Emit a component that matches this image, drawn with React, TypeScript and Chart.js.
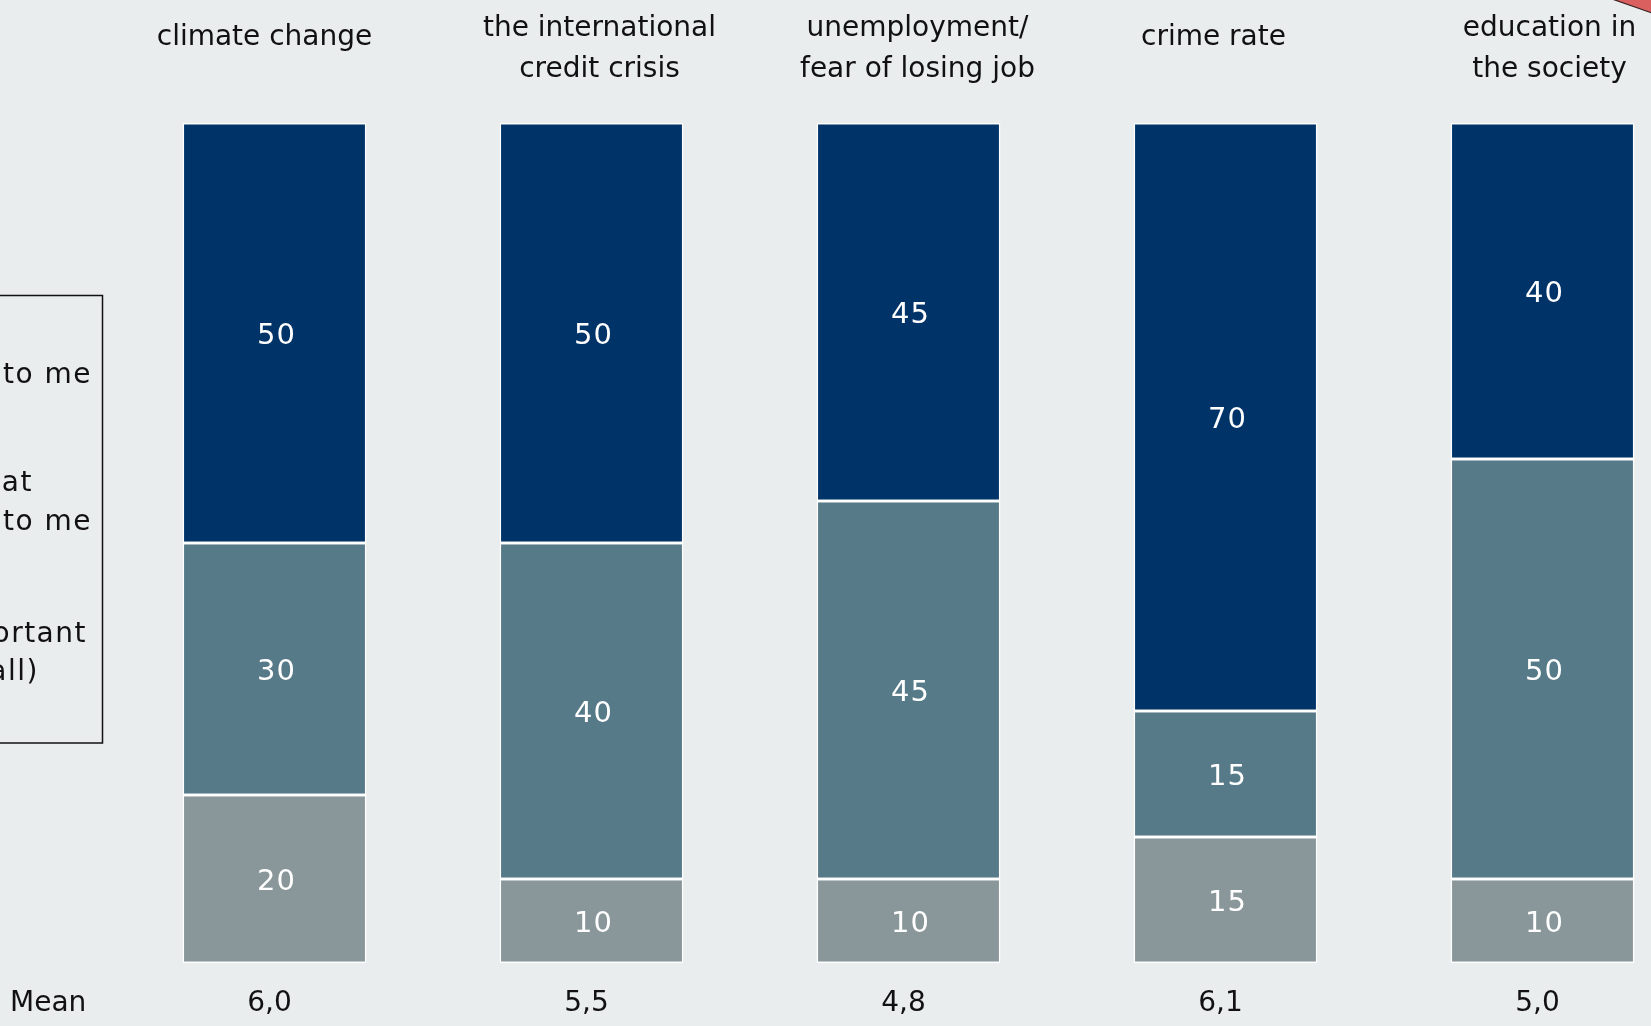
import React, { useEffect, useRef } from "react";
import { Chart, registerables } from "chart.js";

Chart.register(...registerables);

// ---- data ----
const categories: string[][] = [
  ["climate change"],
  ["the international", "credit crisis"],
  ["unemployment/", "fear of losing job"],
  ["crime rate"],
  ["education in", "the society"],
];
const notImportant = [20, 10, 10, 15, 10];
const somewhatImportant = [30, 40, 45, 15, 50];
const veryImportant = [50, 50, 45, 70, 40];
const means = ["6,0", "5,5", "4,8", "6,1", "5,0"];
const meanLabel = "Mean";
const legendLines: string[][] = [
  ["very important to me"],
  ["somewhat", "important to me"],
  ["not important", "(at all)"],
];

// ---- style ----
const BG = "#e9edee";
const NAVY = "#003469";
const MID = "#577a89";
const LIGHT = "#8a979a";
const TEXT = "#111111";
const FONT = "'DejaVu Sans', sans-serif";

const labelNudge = [-10, 8, 9, -12, 7];

const overlayPlugin = {
  id: "overlay",
  beforeDraw(chart: any) {
    const { ctx, width, height } = chart;
    ctx.save();
    ctx.fillStyle = BG;
    ctx.fillRect(0, 0, width, height);
    ctx.restore();
  },
  afterDatasetsDraw(chart: any) {
    const { ctx } = chart;
    const xScale = chart.scales.x;
    ctx.save();
    // value labels
    ctx.fillStyle = "#ffffff";
    ctx.font = `29px ${FONT}`;
    (ctx as any).letterSpacing = "1px";
    ctx.textAlign = "center";
    ctx.textBaseline = "middle";
    chart.data.datasets.forEach((ds: any, di: number) => {
      const meta = chart.getDatasetMeta(di);
      meta.data.forEach((el: any, i: number) => {
        const v = ds.data[i];
        if (!v) return;
        const y = (el.y + el.base) / 2;
        ctx.fillText(String(v), el.x + 2, y + 3.5);
      });
    });

    // category labels (top)
    (ctx as any).letterSpacing = "0px";
    ctx.fillStyle = TEXT;
    ctx.font = `28px ${FONT}`;
    ctx.textBaseline = "alphabetic";
    categories.forEach((lines, i) => {
      const x = xScale.getPixelForValue(i) + labelNudge[i];
      if (lines.length === 1) {
        ctx.fillText(lines[0], x, 45);
      } else {
        ctx.fillText(lines[0], x, 36);
        ctx.fillText(lines[1], x, 77);
      }
    });

    // mean row
    ctx.font = `28px ${FONT}`;
    ctx.textAlign = "left";
    ctx.fillText(meanLabel, 10, 1011);
    ctx.textAlign = "center";
    means.forEach((m, i) => {
      ctx.fillText(m, xScale.getPixelForValue(i) - 5, 1011);
    });

    // legend box (cropped at left)
    ctx.strokeStyle = "#111111";
    ctx.lineWidth = 1.5;
    ctx.strokeRect(-10, 295.5, 112.5, 447.5);
    (ctx as any).letterSpacing = "1.5px";
    ctx.textAlign = "right";
    ctx.textBaseline = "middle";
    const legendPos: [number, number][][] = [
      [[92, 376]],
      [[33, 484], [92, 523]],
      [[87, 635], [39, 673]],
    ];
    legendLines.forEach((lines, li) => {
      lines.forEach((t, k) => {
        const [px, py] = legendPos[li][k];
        ctx.fillText(t, px, py);
      });
    });
    (ctx as any).letterSpacing = "0px";

    // red callout fragment (top right corner)
    ctx.beginPath();
    ctx.moveTo(1612, -1);
    ctx.lineTo(1652, 13);
    ctx.lineTo(1652, -1);
    ctx.closePath();
    ctx.fillStyle = "#d9605f";
    ctx.fill();
    ctx.beginPath();
    ctx.moveTo(1612, -1);
    ctx.lineTo(1652, 13);
    ctx.strokeStyle = "#3a2020";
    ctx.lineWidth = 1.2;
    ctx.stroke();
    ctx.restore();
  },
};

export default function App() {
  const ref = useRef<HTMLCanvasElement | null>(null);
  useEffect(() => {
    if (!ref.current) return;
    const mk = (label: string, data: number[], color: string) => ({
      label,
      data,
      backgroundColor: color,
      borderColor: "#ffffff",
      borderWidth: 1.5,
      borderSkipped: false,
      barPercentage: 0.58,
      categoryPercentage: 1,
    });
    const chart = new Chart(ref.current, {
      type: "bar",
      data: {
        labels: categories.map((c) => c.join(" ")),
        datasets: [
          mk(legendLines[2].join(" "), notImportant, LIGHT),
          mk(legendLines[1].join(" "), somewhatImportant, MID),
          mk(legendLines[0].join(" "), veryImportant, NAVY),
        ],
      },
      options: {
        animation: false,
        responsive: false,
        events: [],
        layout: { padding: { left: 116, right: 19, top: 123, bottom: 63 } },
        plugins: { legend: { display: false }, tooltip: { enabled: false } },
        scales: {
          x: { stacked: true, display: false },
          y: { stacked: true, display: false, min: 0, max: 100 },
        },
      },
      plugins: [overlayPlugin],
    });
    return () => chart.destroy();
  }, []);
  return (
    <div
      style={{
        position: "fixed",
        left: 0,
        top: 0,
        width: 1651,
        height: 1026,
        overflow: "hidden",
        background: BG,
      }}
    >
      <canvas ref={ref} width={1720} height={1026} style={{ display: "block" }} />
    </div>
  );
}
